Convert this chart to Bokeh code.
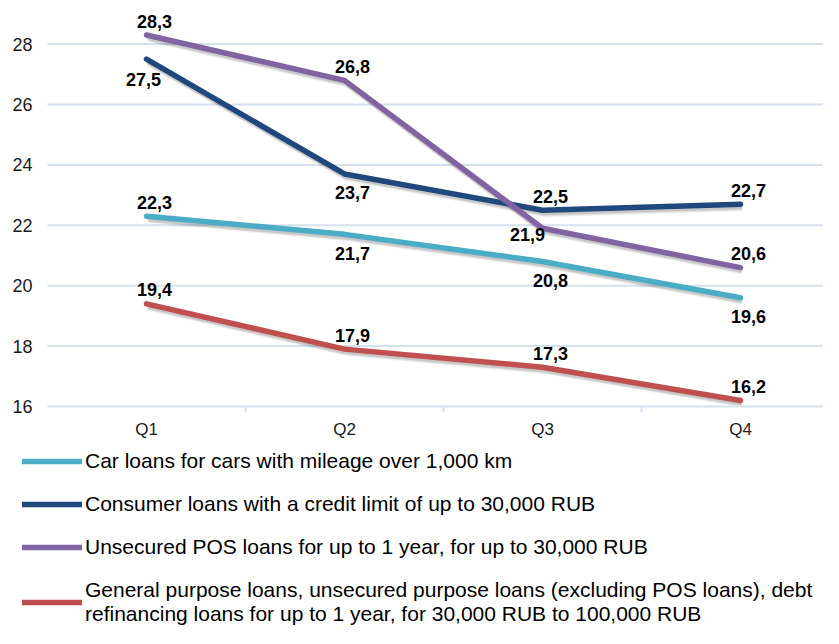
from bokeh.plotting import figure
from bokeh.models import (ColumnDataSource, Range1d, FixedTicker, Legend, LegendItem)
from bokeh.embed import file_html
from bokeh.resources import INLINE
from bokeh.core.properties import value

# ---- data ----
quarters = ["Q1", "Q2", "Q3", "Q4"]
car_loans = [22.3, 21.7, 20.8, 19.6]
consumer_loans = [27.5, 23.7, 22.5, 22.7]
pos_loans = [28.3, 26.8, 21.9, 20.6]
general_loans = [19.4, 17.9, 17.3, 16.2]
series_names = [
    "Car loans for cars with mileage over 1,000 km",
    "Consumer loans with a credit limit of up to 30,000 RUB",
    "Unsecured POS loans for up to 1 year, for up to 30,000 RUB",
    "General purpose loans, unsecured purpose loans (excluding POS loans), debt\n"
    "refinancing loans for up to 1 year, for 30,000 RUB to 100,000 RUB",
]
y_ticks = [16, 18, 20, 22, 24, 26, 28]

# ---- styling ----
colors = ["#4BACC6", "#1F497D", "#8064A2", "#C0504D"]
placements = [
    ["above", "below", "below", "below"],
    ["below_left", "below", "above", "above"],
    ["above", "above", "left", "above"],
    ["above", "above", "above", "above"],
]
offsets = {
    "above": (8, -14),
    "below": (8, 19),
    "below_left": (-3, 20),
    "left": (-15, 6),
}
FONT = "Liberation Sans"
GRID = "#D6E1F0"

W, H = 823, 628
PX_X = 198.0          # pixels per category
PX_Y = 30.2           # pixels per unit of value
Q1_PX = 146           # pixel position of first category
BASE_PX = 406         # pixel row of the lowest y tick
x_lo = -Q1_PX / PX_X
x_hi = x_lo + W / PX_X
y_hi = y_ticks[0] + BASE_PX / PX_Y
y_lo = y_hi - H / PX_Y
cat_lo = -0.5
cat_hi = len(quarters) - 0.5

p = figure(width=W, height=H, output_backend="svg", toolbar_location=None,
           x_range=Range1d(x_lo, x_hi), y_range=Range1d(y_lo, y_hi),
           min_border=0, min_border_left=0, min_border_right=0,
           min_border_top=0, min_border_bottom=0)
p.outline_line_color = None
p.background_fill_color = "white"
p.border_fill_color = "white"

# horizontal grid lines (from tick list) starting at the category axis start
gsrc = ColumnDataSource(dict(y=y_ticks[1:]))
p.segment(x0=cat_lo, x1=x_hi, y0="y", y1="y", source=gsrc,
          line_color=GRID, line_width=2)
p.xgrid.visible = False
p.ygrid.visible = False

# axes drawn at fixed locations inside the frame
xs = list(range(len(quarters)))
xa = p.xaxis[0]
xa.fixed_location = y_ticks[0]
xa.bounds = (cat_lo, cat_hi)
xa.ticker = FixedTicker(ticks=xs, minor_ticks=[i + 0.5 for i in xs[:-1]])
xa.major_label_overrides = {i: q for i, q in enumerate(quarters)}
xa.major_tick_out = 0
xa.major_tick_in = 0
xa.minor_tick_out = 6
xa.minor_tick_in = 0
xa.minor_tick_line_color = GRID
xa.minor_tick_line_width = 2
xa.axis_line_color = GRID
xa.axis_line_width = 2
xa.major_label_text_font = FONT
xa.major_label_text_font_size = "17px"
xa.major_label_text_color = "#1a1a1a"
xa.major_label_standoff = 7

ya = p.yaxis[0]
ya.fixed_location = cat_lo
ya.ticker = FixedTicker(ticks=y_ticks)
ya.axis_line_color = None
ya.major_tick_line_color = None
ya.minor_tick_line_color = None
ya.major_label_text_font = FONT
ya.major_label_text_font_size = "18px"
ya.major_label_text_color = "#1a1a1a"
ya.major_label_standoff = 9

# shadows
dx = 1.0 / PX_X
dy = 1.0 / PX_Y
all_series = [car_loans, consumer_loans, pos_loans, general_loans]
for vals in all_series:
    for d, a in [(2, 0.10), (3, 0.08), (4, 0.05)]:
        p.line([x + d * dx * 0.6 for x in xs], [v - d * dy for v in vals],
               line_color="black", line_alpha=a, line_width=6, line_join="round")

items = []
for vals, col, name, plc in zip(all_series, colors, series_names, placements):
    r = p.line(xs, vals, line_color=col, line_width=5.5, line_join="round", line_cap="round")
    items.append(LegendItem(label=name, renderers=[r]))
    src = ColumnDataSource(dict(
        x=xs, y=vals,
        t=[f"{v:.1f}".replace(".", ",") for v in vals],
        xo=[offsets[k][0] for k in plc],
        yo=[offsets[k][1] for k in plc],
    ))
    p.text("x", "y", text="t", source=src, x_offset="xo", y_offset="yo",
           text_align="center", text_baseline="middle",
           text_font=value(FONT), text_font_style="bold",
           text_font_size="18px", text_color="black")

legend = Legend(items=items, location=(22, 2), orientation="vertical",
                padding=0, margin=0, border_line_color=None,
                background_fill_alpha=0,
                label_text_font=FONT, label_text_font_size="21px",
                label_text_color="black", label_standoff=3,
                glyph_width=60, glyph_height=20, label_height=20,
                spacing=19, label_text_line_height=1.0)
p.add_layout(legend, "center")

open("out.html", "w").write(file_html(p, INLINE))
